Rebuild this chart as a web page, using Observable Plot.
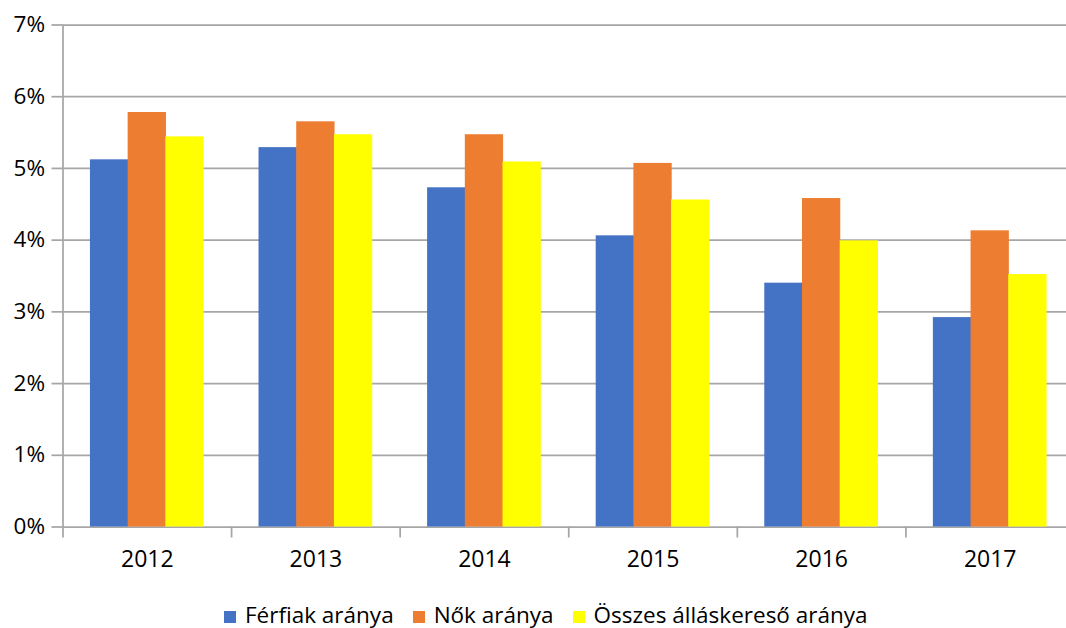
<!DOCTYPE html>
<html>
<head>
<meta charset="utf-8">
<script src="https://cdn.jsdelivr.net/npm/d3@7"></script>
<script src="https://cdn.jsdelivr.net/npm/@observablehq/plot@0.6"></script>
<style>
  html, body { margin: 0; background: #fff; overflow: hidden; font-family: "Open Sans", sans-serif; }
  #chart { width: 1074px; height: 600px; }
  #legend { position: absolute; left: 224px; top: 601px; display: flex; align-items: flex-end; font-size: 22.5px; line-height: 28px; color: #000; white-space: nowrap; }
  #legend .item { display: flex; align-items: center; margin-right: 19px; }
  #legend .sw { width: 12px; height: 12px; display: inline-block; margin-right: 9px; position: relative; top: 2px; }
</style>
</head>
<body>
<div id="chart"></div>
<div id="legend"></div>
<script>
const years = ["2012", "2013", "2014", "2015", "2016", "2017"];
const ferfiak = [5.12, 5.29, 4.73, 4.06, 3.40, 2.92];
const nok = [5.78, 5.65, 5.47, 5.07, 4.58, 4.13];
const osszes = [5.44, 5.47, 5.09, 4.56, 3.99, 3.52];
const seriesNames = ["Férfiak aránya", "Nők aránya", "Összes álláskereső aránya"];
const seriesColors = ["#4472C4", "#ED7D31", "#FFFF00"];
const yTicks = [0, 1, 2, 3, 4, 5, 6, 7];

const seriesValues = [ferfiak, nok, osszes];
const data = seriesValues.map((vals, s) => years.map((y, i) => ({year: y, value: vals[i], series: seriesNames[s]})));

const W = 1074, H = 600, mL = 62.5, mR = 0, mT = 24.5, plotBottom = 526.5;
const step = (W - mL - mR) / years.length;
const barW = 37.7;
const inset = (step - barW) / 2 - 0.3;
const gridColor = "#a6a6a6";
const gw = 1.75;

const barMarks = data.map((d, s) => Plot.barY(d, {
  x: "year", y: "value", fill: seriesColors[s],
  insetLeft: inset, insetRight: inset, dx: (s - 1) * barW
}));

const chart = Plot.plot({
  width: W, height: H,
  marginLeft: mL, marginRight: mR, marginTop: mT, marginBottom: H - plotBottom,
  style: {fontFamily: "'Open Sans', sans-serif", fontSize: "21px", color: "#000", background: "#fff", overflow: "visible"},
  x: {type: "band", domain: years, paddingInner: 0, paddingOuter: 0, round: false},
  y: {domain: [0, 7]},
  marks: [
    Plot.ruleY(yTicks, {stroke: gridColor, strokeWidth: gw}),
    ...barMarks,
    Plot.ruleX([years[0]], {x: d => d, y1: 7, y2: 0, dx: -step / 2, insetBottom: -11, stroke: gridColor, strokeWidth: gw}),
    Plot.ruleX(years.slice(1), {x: d => d, y1: 0, y2: 0, dx: -step / 2, insetBottom: -11, stroke: gridColor, strokeWidth: gw}),
    Plot.ruleX([years[years.length - 1]], {x: d => d, y1: 0, y2: 0, dx: step / 2, insetBottom: -11, stroke: gridColor, strokeWidth: gw}),
    Plot.axisY(yTicks, {tickSize: 11, tickPadding: 7, stroke: gridColor, strokeWidth: gw, strokeOpacity: 1, tickFormat: d => d + "%", label: null, fill: "#000", fontSize: 22.5}),
    Plot.axisX({tickSize: 0, tickPadding: 24, label: null, fill: "#000", fontSize: 23})
  ]
});
document.getElementById("chart").appendChild(chart);

const legend = document.getElementById("legend");
seriesNames.forEach((n, i) => {
  const item = document.createElement("span");
  item.className = "item";
  const sw = document.createElement("span");
  sw.className = "sw";
  sw.style.background = seriesColors[i];
  const t = document.createElement("span");
  t.textContent = n;
  item.appendChild(sw); item.appendChild(t);
  legend.appendChild(item);
});
</script>
</body>
</html>
